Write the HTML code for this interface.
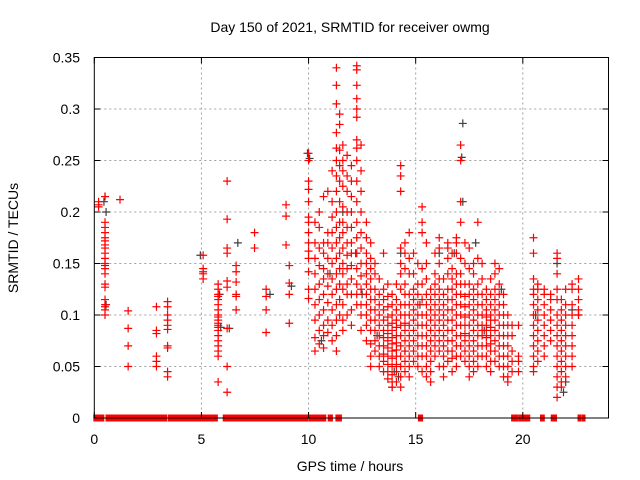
<!DOCTYPE html>
<html><head><meta charset="utf-8"><style>
body{margin:0;background:#fff;}
svg{display:block;font-family:"Liberation Sans",sans-serif;}
</style></head><body>
<svg id="chart" width="640" height="480" viewBox="0 0 640 480">
<rect width="640" height="480" fill="#fff"/>
<text x="350" y="32" text-anchor="middle" font-size="14">Day 150 of 2021, SRMTID for receiver owmg</text>
<text transform="translate(18,238) rotate(-90)" text-anchor="middle" font-size="14">SRMTID / TECUs</text>
<text x="350" y="471" text-anchor="middle" font-size="14">GPS time / hours</text>
<g id="grid"></g><g id="marks"></g><g id="frame"></g>
</svg>
<script>
const xTicks=[0,5,10,15,20];
const yTicks=[0,0.05,0.1,0.15,0.2,0.25,0.3,0.35];
const yTickLabels=["0","0.05","0.1","0.15","0.2","0.25","0.3","0.35"];
const zeroSegments=[[0.0,0.42],[0.57,1.74],[1.79,2.18],[2.26,2.92],[2.97,3.36],[3.48,5.72],[6.04,6.27],[6.35,6.66],[6.74,7.52],[7.56,8.03],[8.1,8.84],[8.92,9.93],[10.03,10.31],[10.39,10.78],[10.94,11.09],[11.3,11.51],[15.15,15.3],[19.5,19.75],[19.85,20.3],[20.85,20.98],[21.35,21.55],[22.6,22.68],[22.78,22.88]];
const redTimes=[0.2,0.5,1.2,1.58,2.9,3.42,5.08,5.78,6.2,6.62,7.48,8.02,8.95,9.1,10.0,10.3,10.5,10.7,10.9,11.1,11.3,11.45,11.6,11.8,12.0,12.25,12.45,12.7,12.9,13.1,13.3,13.5,13.7,13.9,14.1,14.3,14.5,14.7,14.9,15.1,15.3,15.5,15.7,15.9,16.1,16.3,16.5,16.7,16.9,17.1,17.3,17.5,17.7,17.9,18.1,18.3,18.5,18.7,18.9,19.1,19.3,19.5,19.8,20.5,20.7,21.0,21.3,21.6,21.8,22.0,22.3,22.6];
const redValues=[
[.21,.207,.205],
[.215,.19,.185,.18,.175,.172,.168,.165,.16,.155,.15,.145,.14,.13,.127,.115,.11,.108,.105,.1],
[.212],
[.104,.087,.07,.05],
[.108,.085,.082,.06,.055,.05],
[.113,.108,.1,.095,.09,.086,.07,.068,.045,.04],
[.158,.145,.142,.14,.135],
[.035,.13,.125,.12,.118,.115,.11,.105,.1,.098,.095,.092,.09,.088,.085,.08,.075,.07,.065,.06],
[.23,.193,.165,.16,.133,.127,.087,.05,.025],
[.148,.142,.132,.12,.118,.105],
[.18,.165],
[.125,.118,.105,.083],
[.207,.196,.168],
[.148,.131,.12,.092],
[.257,.25,.23,.222,.21,.195,.19,.18,.17,.162,.155,.142,.125,.116],
[.19,.17,.155,.14,.125,.11,.095,.078,.065],
[.2,.185,.165,.148,.13,.115,.1,.085,.072],
[.215,.17,.16,.145,.135,.12,.105,.09,.08,.068],
[.22,.18,.17,.155,.14,.128,.112,.095,.083],
[.24,.21,.195,.18,.165,.15,.135,.12,.105,.09,.075],
[.34,.323,.305,.277,.262,.25,.235,.22,.2,.185,.17,.155,.14,.125,.11,.095,.08,.065],
[.295,.285,.26,.245,.23,.21,.19,.175,.16,.145,.13,.115,.1],
[.265,.25,.24,.225,.205,.19,.18,.165,.15,.14,.125,.11,.095,.085],
[.255,.235,.22,.2,.185,.17,.158,.145,.13,.12,.1],
[.245,.23,.215,.2,.185,.17,.16,.148,.135,.12,.105,.09],
[.342,.338,.323,.31,.3,.292,.27,.262,.25,.23,.21,.19,.175,.16,.145,.13,.12,.11],
[.265,.24,.22,.2,.18,.165,.15,.138,.125,.11,.1,.085],
[.19,.175,.16,.15,.14,.13,.12,.11,.1,.09,.075],
[.17,.155,.145,.135,.125,.115,.105,.095,.085,.072,.06,.05],
[.15,.14,.125,.115,.105,.095,.085,.075,.065],
[.135,.12,.11,.1,.09,.08,.07,.06,.05],
[.16,.125,.115,.105,.095,.085,.078,.07,.062,.055,.045],
[.13,.118,.108,.098,.09,.082,.075,.068,.06,.052,.045,.038],
[.12,.11,.1,.092,.085,.078,.072,.065,.058,.05,.042,.035,.03],
[.13,.115,.105,.095,.088,.08,.073,.066,.06,.052,.045,.035],
[.245,.235,.22,.165,.15,.14,.125,.11,.1,.09,.08,.07,.06,.05,.04,.03],
[.17,.16,.145,.13,.12,.11,.1,.092,.085,.075,.065,.055,.045],
[.18,.155,.14,.12,.11,.1,.09,.08,.07,.06,.05,.04],
[.16,.14,.125,.115,.105,.095,.085,.075,.065,.055],
[.15,.13,.12,.11,.1,.09,.08,.07,.06,.05],
[.205,.19,.18,.145,.13,.115,.1,.09,.08,.07,.06,.045],
[.17,.15,.135,.12,.11,.1,.09,.08,.07,.06,.05,.04],
[.125,.115,.105,.095,.085,.075,.065,.055,.045,.035],
[.16,.14,.13,.12,.11,.1,.09,.08,.07,.06],
[.175,.165,.15,.135,.125,.115,.105,.095,.085,.075,.065,.05],
[.135,.12,.11,.1,.09,.08,.07,.06,.05,.04],
[.17,.165,.155,.14,.125,.115,.105,.095,.085,.075,.065,.055],
[.16,.145,.135,.125,.115,.105,.095,.085,.075,.065,.058,.045],
[.175,.17,.16,.14,.13,.12,.11,.1,.09,.08,.07,.06,.05],
[.265,.25,.21,.19,.155,.14,.13,.12,.11,.1,.09,.08,.07,.06],
[.17,.15,.13,.118,.108,.098,.09,.082,.075,.065,.055],
[.165,.145,.13,.12,.11,.1,.09,.08,.07,.06,.05,.04],
[.15,.14,.125,.115,.105,.095,.085,.075,.065,.055,.045],
[.19,.155,.13,.12,.11,.1,.09,.08,.07,.06,.05],
[.15,.135,.12,.11,.1,.09,.085,.08,.07,.06],
[.125,.115,.105,.098,.09,.085,.078,.07,.06,.05],
[.135,.12,.11,.1,.095,.088,.08,.072,.065,.055,.045],
[.15,.14,.125,.115,.105,.095,.085,.075,.065,.055],
[.145,.13,.12,.11,.1,.09,.08,.07,.06,.05],
[.12,.11,.1,.09,.08,.07,.06,.05,.04],
[.1,.09,.08,.07,.06,.05,.04,.035],
[.09,.08,.065,.055,.045],
[.09,.06,.055,.045],
[.175,.16,.135,.125,.12,.11,.1,.09,.08,.07,.06,.05,.045],
[.13,.125,.115,.105,.095,.085,.075,.065,.055],
[.125,.12,.11,.1,.09,.08,.07,.06],
[.12,.115,.105,.095,.085,.075],
[.16,.155,.14,.125,.115,.1,.09,.08,.07,.06,.05,.04,.03,.02],
[.115,.105,.095,.085,.075,.065,.055,.045,.035,.03],
[.125,.11,.1,.09,.08,.07,.06,.05,.04],
[.13,.125,.11,.1,.09,.08,.07,.06,.05],
[.135,.125,.115,.1,.105]
];
const darkTimes=[0.45,0.5,0.55,0.5,0.55,4.95,5.85,5.9,6.3,6.7,8.2,9.2,9.95,10.05,10.6,11.0,11.6,12.2,12.5,13.2,13.9,14.0,14.2,14.5,14.3,15.2,16.1,16.8,17.2,17.15,17.2,17.8,18.2,19.0,20.6,21.6,21.9,22.0,22.3,22.6];
const darkValues=[.21,.215,.2,.148,.11,.158,.12,.088,.087,.17,.12,.128,.257,.252,.075,.14,.2,.16,.12,.08,.03,.045,.04,.065,.16,.11,.16,.16,.286,.253,.21,.17,.085,.125,.1,.15,.025,.035,.105,.1];

const L=94.3,R=608.5,T=57.5,B=418;
const xMax=24,yMax=0.35;
const X=t=>L+(R-L)*t/xMax;
const Y=v=>B-(B-T)*v/yMax;
const NS='http://www.w3.org/2000/svg';
function mk(tag,attrs,parent){const e=document.createElementNS(NS,tag);for(const k in attrs)e.setAttribute(k,attrs[k]);parent.appendChild(e);return e;}
const grid=document.getElementById('grid'),marks=document.getElementById('marks'),frame=document.getElementById('frame');
xTicks.forEach((t,i)=>{
  if(t>0){const g=mk('line',{x1:X(t),x2:X(t),y1:T,y2:B,stroke:'#a0a0a0','stroke-dasharray':'2,3'},grid);
  
  }
  const tk=mk('line',{x1:X(t),x2:X(t),y1:B,y2:B-6,stroke:'#000'},frame);
  
  
  const tk2=mk('line',{x1:X(t),x2:X(t),y1:T,y2:T+6,stroke:'#000'},frame);
  
  
  const lb=mk('text',{x:X(t),y:444,'text-anchor':'middle','font-size':'14'},frame);lb.textContent=String(t);
  
  
});
yTicks.forEach((v,i)=>{
  if(v>0&&v<yMax){const g=mk('line',{x1:L,x2:R,y1:Y(v),y2:Y(v),stroke:'#a0a0a0','stroke-dasharray':'2,3'},grid);
  
  }
  const tk=mk('line',{x1:L,x2:L+6,y1:Y(v),y2:Y(v),stroke:'#000'},frame);
  
  
  const tk2=mk('line',{x1:R,x2:R-6,y1:Y(v),y2:Y(v),stroke:'#000'},frame);
  
  
  const lb=mk('text',{x:80,y:Y(v)+5,'text-anchor':'end','font-size':'14'},frame);lb.textContent=yTickLabels[i];
  
  
});
const bx=mk('rect',{x:L,y:T,width:R-L,height:B-T,fill:'none',stroke:'#000','stroke-width':1},frame);


function plus(t,v,color,name){
  const x=X(t),y=Y(v);
  const p=mk('path',{d:`M${x-4} ${y}H${x+4}M${x} ${y-4}V${y+4}`,stroke:color,'stroke-width':1.2,fill:'none'},marks);
  
  
}
darkTimes.forEach((t,i)=>plus(t,darkValues[i],'#404040','dark-point'));
redTimes.forEach((t,i)=>redValues[i].forEach(v=>plus(t,v,'#ff0000','red-point')));
zeroSegments.forEach(s=>{
  const r=mk('rect',{x:X(s[0])-1,y:B-3.5,width:X(s[1])-X(s[0])+2,height:7,fill:'#ff0000'},marks);
  
  
});
</script>
</body></html>
